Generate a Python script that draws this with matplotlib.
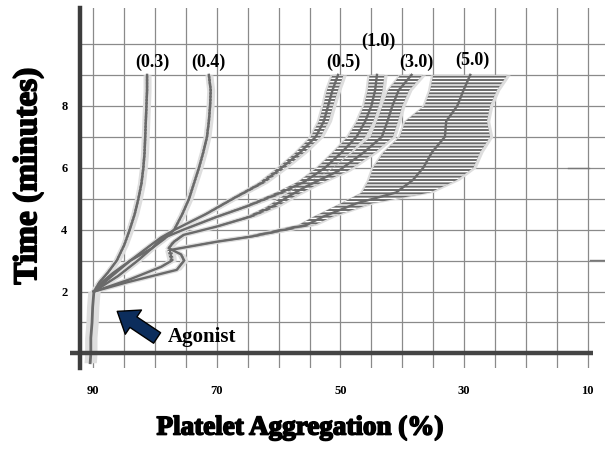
import matplotlib
matplotlib.use('Agg')
import matplotlib.pyplot as plt
import matplotlib.patheffects as pe
import numpy as np

# shared baseline before the agonist is added (time in minutes, aggregation in %)
t_base = [-0.3, 0.0, 0.5, 1.0, 1.5, 2.0]
x_base = [90.5, 90.4, 90.4, 90.2, 90.1, 89.9]

# one trace per agonist concentration
t_03 = [2.0, 2.3, 2.6, 3.0, 3.5, 4.0, 4.5, 5.0, 5.5, 6.0, 6.5, 7.0, 7.5, 8.0, 8.5, 9.0]
x_03 = [89.9, 89.0, 87.7, 86.2, 85.0, 84.1, 83.3, 82.7, 82.2, 81.9, 81.7, 81.6, 81.5, 81.4, 81.3, 81.3]
w_03 = [0.2] * len(t_03)

t_04 = [2.0, 2.3, 2.6, 3.0, 3.4, 3.7, 4.0, 4.5, 5.0, 5.5, 6.0, 6.5, 7.0, 7.5, 8.0, 8.5, 9.0]
x_04 = [89.9, 88.6, 86.8, 84.0, 80.5, 78.5, 76.9, 75.6, 74.5, 73.7, 72.9, 72.2, 71.6, 71.3, 71.1, 71.0, 71.3]
w_04 = [0.2] * len(t_04)

t_05 = [2.0, 2.5, 3.0, 3.5, 3.75, 4.0, 4.5, 5.0, 5.5, 6.0, 6.5, 7.0, 7.5, 8.0, 8.5, 9.0]
x_05 = [89.9, 87.0, 84.0, 80.7, 79.0, 76.8, 71.8, 67.4, 62.8, 59.5, 56.5, 54.0, 52.7, 52.0, 51.3, 50.4]
w_05 = [0.2, 0.2, 0.2, 0.2, 0.2, 0.2, 0.3, 0.4, 0.5, 0.6, 0.7, 0.8, 0.8, 0.8, 0.9, 0.9]

t_10 = [2.0, 2.5, 3.0, 3.4, 3.7, 4.0, 4.4, 4.75, 5.2, 5.55, 6.0, 6.5, 7.0, 7.5, 8.0, 8.5, 9.0]
x_10 = [89.9, 86.0, 82.8, 80.5, 79.0, 75.4, 70.2, 65.2, 59.6, 55.8, 52.5, 49.8, 47.4, 46.0, 45.0, 44.4, 44.1]
w_10 = [0.2, 0.2, 0.2, 0.2, 0.3, 0.3, 0.4, 0.5, 0.8, 1.0, 1.3, 1.4, 1.4, 1.3, 1.2, 1.2, 1.2]

t_30 = [2.0, 2.3, 2.7, 3.0, 3.2, 3.4, 3.6, 3.83, 4.1, 4.42, 4.75, 5.1, 5.4, 5.9, 6.5, 7.0, 7.5, 8.0, 8.5, 9.0]
x_30 = [89.9, 84.5, 76.5, 75.3, 75.8, 77.8, 77.0, 75.4, 70.0, 64.6, 61.0, 58.2, 55.5, 50.3, 46.2, 43.3, 42.4, 41.6, 40.6, 38.5]
w_30 = [0.2, 0.2, 0.2, 0.2, 0.2, 0.2, 0.3, 0.3, 0.4, 0.6, 0.8, 1.0, 1.2, 1.5, 1.8, 1.8, 1.7, 1.6, 1.7, 1.8]

t_50 = [2.0, 2.4, 2.8, 3.0, 3.34, 3.61, 3.77, 3.99, 4.15, 4.42, 4.85, 5.2, 5.6, 6.0, 6.5, 7.0, 7.5, 8.0, 8.5, 9.0]
x_50 = [89.9, 84.0, 79.0, 77.3, 77.6, 70.0, 64.6, 59.3, 55.5, 52.8, 47.4, 41.0, 38.3, 36.6, 35.2, 33.1, 32.9, 31.1, 30.1, 29.0]
w_50 = [0.2, 0.2, 0.2, 0.3, 0.4, 0.8, 1.0, 1.2, 1.3, 1.5, 2.5, 5.5, 7.1, 8.1, 7.8, 7.3, 6.6, 5.3, 5.4, 6.0]

conc_labels = ['(0.3)', '(0.4)', '(0.5)', '(1.0)', '(3.0)', '(5.0)']
label_x = [80.5, 71.4, 49.6, 43.9, 37.8, 28.6]
label_t = [9.42, 9.42, 9.42, 10.07, 9.39, 9.48]

# stray marks of the recorder on the right
stray_t = [6.0, 3.02]
stray_x0 = [13.2, 9.7]
stray_x1 = [9.8, 7.2]

x_major = [90, 70, 50, 30, 10]
y_major = [2, 4, 6, 8]

CORE = '#6a6a6a'
HALO = '#dedede'
SERIF = ['Liberation Serif', 'DejaVu Serif']

fig = plt.figure(figsize=(6.05, 4.5), dpi=100)
ax = fig.add_axes([80 / 605, 82 / 450, 525 / 605, 360 / 450])
ax.set_xlim(92.15, 7.2)
ax.set_ylim(-0.47, 11.16)

# grid
ax.set_xticks(x_major)
ax.set_xticks(np.arange(10, 95, 5), minor=True)
ax.set_yticks(y_major)
ax.set_yticks(np.arange(1, 11), minor=True)
ax.grid(which='both', color='#8a8a8a', lw=0.9, zorder=0)
ax.tick_params(which='both', length=0)
ax.tick_params(axis='x', pad=12)
ax.tick_params(axis='y', pad=9)
for lbl in ax.get_xticklabels() + ax.get_yticklabels():
    lbl.set_family(SERIF)
    lbl.set_fontweight('bold')
    lbl.set_fontsize(9)

for side in ['top', 'right', 'bottom']:
    ax.spines[side].set_visible(False)
ax.spines['left'].set_linewidth(3.2)
ax.spines['left'].set_color('#3c3c3c')
ax.spines['left'].set_zorder(6)

# thick x axis line at time zero
ax.plot([93.8, 9.2], [0, 0], color='#444444', lw=3.2, clip_on=False, zorder=6,
        solid_capstyle='butt')

# baseline segment
ax.fill_betweenx(t_base, np.array(x_base) - 1.0, np.array(x_base) + 1.0,
                 color=HALO, lw=0, zorder=2)
ax.plot(x_base, t_base, color=CORE, lw=2.0, zorder=4)

traces = [(t_03, x_03, w_03), (t_04, x_04, w_04), (t_05, x_05, w_05),
          (t_10, x_10, w_10), (t_30, x_30, w_30), (t_50, x_50, w_50)]

for tt, xx, ww in traces:
    xx = np.array(xx)
    ww = np.array(ww)
    ax.fill_betweenx(tt, xx - ww - 0.45, xx + ww + 0.45, color=HALO, lw=0, zorder=2)
    ax.plot(xx, tt, color=HALO, lw=3.5, zorder=2, solid_capstyle='butt')
    ax.fill_betweenx(tt, xx - ww, xx + ww, facecolor=CORE, edgecolor='white',
                     hatch='-----', lw=0, zorder=3)
    ax.plot(xx, tt, color=CORE, lw=1.7, zorder=4)

for ts, a, b in zip(stray_t, stray_x0, stray_x1):
    ax.plot([a, b], [ts, ts], color='#777777', lw=1, zorder=4)

for lbl, lx, lt in zip(conc_labels, label_x, label_t):
    ax.text(lx, lt, lbl, ha='center', va='center', fontsize=13,
            fontweight='bold', family=SERIF, zorder=7)

# agonist arrow
ax.annotate('', xy=(86.5, 1.41), xytext=(79.3, 0.45),
            arrowprops=dict(arrowstyle='simple,head_width=1.5,head_length=1.0,tail_width=0.65',
                            fc='#0c2d5c', ec='black', lw=1, mutation_scale=14),
            zorder=7)
ax.text(72.4, 0.53, 'Agonist', ha='center', va='center', fontsize=15,
        fontweight='bold', family=SERIF, zorder=7)

heavy = [pe.withStroke(linewidth=1.2, foreground='black')]
fig.text(0.046, 0.609, 'Time (minutes)', rotation=90, ha='center', va='center',
         fontsize=24, fontweight='bold', family=SERIF, path_effects=heavy)
fig.text(0.496, 0.049, 'Platelet Aggregation (%)', ha='center', va='center',
         fontsize=19.5, fontweight='bold', family=SERIF, path_effects=heavy)

fig.savefig('out.png', dpi=100)
